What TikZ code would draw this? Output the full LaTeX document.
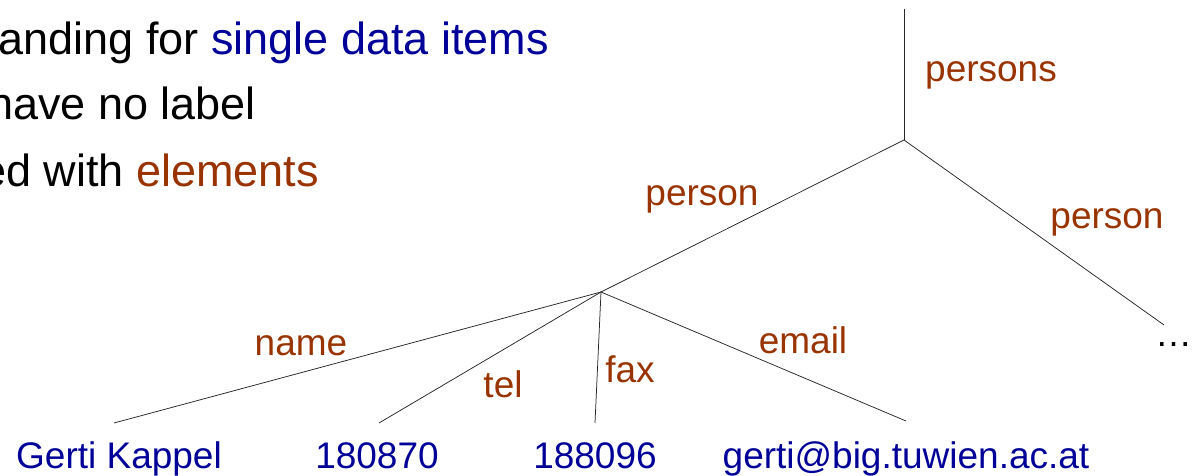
\documentclass[tikz,border=0pt]{standalone}
\usepackage{fontspec}
\setmainfont{Liberation Sans}
\definecolor{itemblue}{HTML}{000099}
\definecolor{elembrown}{HTML}{993300}
\begin{document}
\begin{tikzpicture}[x=1pt,y=-1pt,
  edge/.style={draw=black!85, line width=0.75pt},
  lbl/.style={inner sep=0pt, anchor=base, text=elembrown, font=\fontsize{37}{44}\selectfont},
  leaf/.style={inner sep=0pt, anchor=base, text=itemblue, font=\fontsize{37}{44}\selectfont},
  bodytext/.style={inner sep=0pt, anchor=base east, font=\fontsize{45}{54}\selectfont}]
\useasboundingbox (0,0) rectangle (1195,476);

% running text on the left
\node[bodytext] (t1) at (549,55) {anding for \textcolor{itemblue}{single data items}};
\node[bodytext] (t2) at (256,120) {have no label};
\node[bodytext] (t3) at (319,187) {ed with \textcolor{elembrown}{elements}};

% tree skeleton
\coordinate (top)     at (904,9);
\coordinate (persons) at (904,140);
\coordinate (person)  at (601,292);
\coordinate (person2) at (1164,325);
\coordinate (nameEnd)  at (114,423);
\coordinate (telEnd)   at (379,423);
\coordinate (faxEnd)   at (595,423);
\coordinate (emailEnd) at (906,421);

\draw[edge] (top) -- (persons);
\draw[edge] (persons) -- (person);
\draw[edge] (persons) -- (person2);
\draw[edge] (person) -- (nameEnd);
\draw[edge] (person) -- (telEnd);
\draw[edge] (person) -- (faxEnd);
\draw[edge] (person) -- (emailEnd);

% element labels
\node[lbl] (lPersons) at (991,82)  {persons};
\node[lbl] (lPerson)  at (702,205) {person};
\node[lbl] (lPerson2) at (1107,229) {person};
\node[lbl] (lName)    at (301,355) {name};
\node[lbl] (lTel)     at (503,397) {tel};
\node[lbl] (lFax)     at (630,382) {fax};
\node[lbl] (lEmail)   at (803,353) {email};

% data items
\node[leaf] (vName)  at (119,468) {Gerti Kappel};
\node[leaf] (vTel)   at (377,468) {180870};
\node[leaf] (vFax)   at (595,468) {188096};
\node[leaf] (vEmail) at (906,468) {gerti@big.tuwien.ac.at};
\node[inner sep=0pt, anchor=base west, font=\fontsize{37}{44}\selectfont] (more) at (1155,346) {…};
\end{tikzpicture}
\end{document}
